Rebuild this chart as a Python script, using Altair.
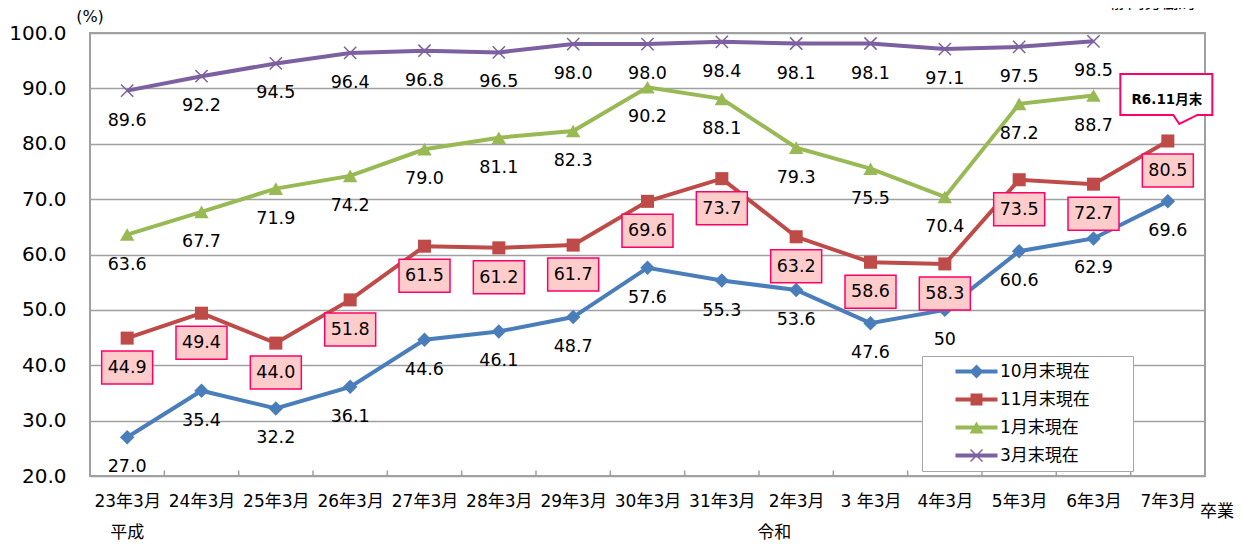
import json
import altair as alt
import pandas as pd

# ---------------- data ----------------
categories = ["23年3月", "24年3月", "25年3月", "26年3月", "27年3月", "28年3月", "29年3月",
              "30年3月", "31年3月", "2年3月", "3 年3月", "4年3月", "5年3月", "6年3月", "7年3月"]
series_names = ["10月末現在", "11月末現在", "1月末現在", "3月末現在"]
oct_values = [27.0, 35.4, 32.2, 36.1, 44.6, 46.1, 48.7, 57.6, 55.3, 53.6, 47.6, 50, 60.6, 62.9, 69.6]
nov_values = [44.9, 49.4, 44.0, 51.8, 61.5, 61.2, 61.7, 69.6, 73.7, 63.2, 58.6, 58.3, 73.5, 72.7, 80.5]
jan_values = [63.6, 67.7, 71.9, 74.2, 79.0, 81.1, 82.3, 90.2, 88.1, 79.3, 75.5, 70.4, 87.2, 88.7, None]
mar_values = [89.6, 92.2, 94.5, 96.4, 96.8, 96.5, 98.0, 98.0, 98.4, 98.1, 98.1, 97.1, 97.5, 98.5, None]
era_names = ["平成", "令和"]
era_first = ["23年3月", "2年3月"]
y_ticks = [20, 30, 40, 50, 60, 70, 80, 90, 100]
callout_text = "R6.11月末"
callout_category = "7年3月"
callout_value = 88
unit_text = "(%)"
source_text = "静岡労働局"
xaxis_suffix = "卒業"

colors = ["#4A7EBB", "#BE4B48", "#98B954", "#7D60A0"]
FONT = "DejaVu Sans, Noto Sans CJK JP"
SPACER_TITLE = "——"  # fully transparent legend title, used only as right-hand spacing

# ---------------- table ----------------
rows = []
for name, vals in zip(series_names, [oct_values, nov_values, jan_values, mar_values]):
    for i, v in enumerate(vals):
        if v is None:
            continue
        lab = f"{v:.1f}" if isinstance(v, float) else str(v)
        rows.append({"idx": i, "cat": categories[i], "series": name, "value": v, "label": lab})
df = pd.DataFrame(rows)

n = len(categories)
bounds_df = pd.DataFrame({"b": [i + 0.5 for i in range(n - 1)]})
era_df = pd.DataFrame({"name": era_names, "idx": [categories.index(c) for c in era_first]})

color_scale = alt.Scale(domain=series_names, range=colors)
color_enc = alt.Color("series:N", scale=color_scale, title=SPACER_TITLE)

x_enc = alt.X("idx:Q",
              scale=alt.Scale(domain=[-0.5, n - 0.5], nice=False, zero=False),
              axis=alt.Axis(values=list(range(n)),
                            labelExpr=json.dumps(categories, ensure_ascii=False) + "[datum.value]",
                            ticks=False, grid=False, domain=False, title=None,
                            labelFont=FONT, labelFontSize=17, labelColor="#000000",
                            labelPadding=17, labelAngle=0))
y_enc = alt.Y("value:Q",
              scale=alt.Scale(domain=[20, 100], nice=False, zero=False),
              axis=alt.Axis(values=y_ticks, format=".1f", ticks=False, domain=False,
                            grid=True, gridColor="#A0A0A0", gridWidth=1.5, title=None,
                            labelFont="DejaVu Sans", labelFontSize=20, labelColor="#000000",
                            labelPadding=24))

base = alt.Chart(df)

lines = base.mark_line(strokeWidth=4).encode(
    x=x_enc, y=y_enc, color=color_enc, detail="series:N")

ticks = alt.Chart(bounds_df).mark_rule(color="#A0A0A0", strokeWidth=1.5).encode(
    x="b:Q", y=alt.datum(20), y2=alt.datum(21))

marker_specs = [
    dict(shape="diamond", size=210, filled=True),
    dict(shape="square", size=170, filled=True),
    dict(shape="triangle-up", size=210, filled=True),
    dict(shape="M-1,-1L1,1M-1,1L1,-1", size=150, filled=False, strokeWidth=1.5),
]
point_layers = []
for name, spec in zip(series_names, marker_specs):
    point_layers.append(
        base.transform_filter(alt.datum.series == name)
        .mark_point(opacity=1, **spec)
        .encode(x="idx:Q", y="value:Q", color=color_enc))

box_path = "M-25.5,13L25.5,13L25.5,46L-25.5,46Z"
boxes = base.transform_filter(alt.datum.series == series_names[1]).mark_point(
    shape=box_path, size=4, filled=True, fill="#FFCCCC", stroke="#FF0066",
    strokeWidth=1.5, opacity=1).encode(x="idx:Q", y="value:Q")

labels = base.mark_text(dy=30, fontSize=17.5, font="DejaVu Sans", color="#000000",
                        baseline="middle").encode(x="idx:Q", y="value:Q", text="label:N")

# legend-only layer (symbols = line + marker)
line_part = "M18,-2L60,-2L60,2L18,2Z"
legend_paths = [
    line_part + "M32,0L39,-7L46,0L39,7Z",
    line_part + "M33,-6L45,-6L45,6L33,6Z",
    line_part + "M32,6L39,-6L46,6Z",
    line_part + "M33.5,-6.5L45.5,5.5L44.5,6.5L32.5,-5.5ZM32.5,5.5L44.5,-6.5L45.5,-5.5L33.5,6.5Z",
]
legend_layer = base.mark_point(filled=True, opacity=1, clip=True).encode(
    x=alt.value(-5000), y=alt.value(-5000),
    color=color_enc,
    shape=alt.Shape("series:N", scale=alt.Scale(domain=series_names, range=legend_paths),
                    title=SPACER_TITLE))

callout_idx = categories.index(callout_category)
callout_path = "M-47.5,-25.5L44.5,-25.5L44.5,15.5L29.5,15.5L11.5,24.5L5.5,15.5L-47.5,15.5Z"
callout_df = pd.DataFrame({"idx": [callout_idx], "value": [callout_value], "t": [callout_text]})
callout_box = alt.Chart(callout_df).mark_point(
    shape=callout_path, size=4, filled=True, fill="#FFFFFF", stroke="#FF0066",
    strokeWidth=2, opacity=1).encode(x="idx:Q", y="value:Q")
callout_label = alt.Chart(callout_df).mark_text(
    font=FONT, fontSize=13.5, fontWeight="bold", color="#000000", dx=-1, dy=1).encode(
    x="idx:Q", y="value:Q", text="t:N")

era_layers = []
for k, dxv in zip(range(len(era_names)), [0, -22]):
    era_layers.append(
        alt.Chart(era_df.iloc[[k]]).mark_text(font=FONT, fontSize=17, color="#000000",
                                              dx=dxv, baseline="middle")
        .encode(x="idx:Q", y=alt.value(500), text="name:N"))

txt_df = pd.DataFrame({"t": [unit_text, xaxis_suffix, source_text]})
unit_lbl = alt.Chart(txt_df.iloc[[0]]).mark_text(font=FONT, fontSize=16, color="#000000",
                                                 baseline="middle").encode(
    x=alt.value(0), y=alt.value(-16), text="t:N")
suffix_lbl = alt.Chart(txt_df.iloc[[1]]).mark_text(font=FONT, fontSize=17, color="#000000",
                                                   baseline="middle", align="left").encode(
    x=alt.value(1110), y=alt.value(479), text="t:N")
source_lbl = alt.Chart(txt_df.iloc[[2]]).mark_text(font=FONT, fontSize=17, color="#000000",
                                                   baseline="bottom").encode(
    x=alt.value(1063), y=alt.value(-21), text="t:N")

chart = alt.layer(
    lines, ticks, *point_layers, boxes, labels, legend_layer, callout_box, callout_label,
    *era_layers, unit_lbl, suffix_lbl, source_lbl
).properties(
    width=1115, height=443,
    padding={"left": 82, "top": 25, "right": 29, "bottom": 72},
    autosize=alt.AutoSizeParams(type="none"),
).configure_view(stroke="#A0A0A0", strokeWidth=2).configure_axisY(
    labelFont="DejaVu Sans", labelFontSize=20, labelColor="#000000", labelPadding=24
).configure_axisX(
    labelFont=FONT, labelFontSize=17, labelColor="#000000", labelPadding=17
).configure_legend(
    orient="none", legendX=832, legendY=323,
    titleOrient="right", titleFontSize=17, titlePadding=2, titleFont="DejaVu Sans",
    titleOpacity=0,
    symbolSize=4, symbolStrokeWidth=0, labelOffset=54, symbolType="circle",
    labelFont=FONT, labelFontSize=17, labelColor="#000000",
    padding=7, rowPadding=10, fillColor="#FFFFFF", strokeColor="#A6A6A6",
    symbolOpacity=1,
)

chart.save("out.html", embed_options={"renderer": "svg", "actions": False})
